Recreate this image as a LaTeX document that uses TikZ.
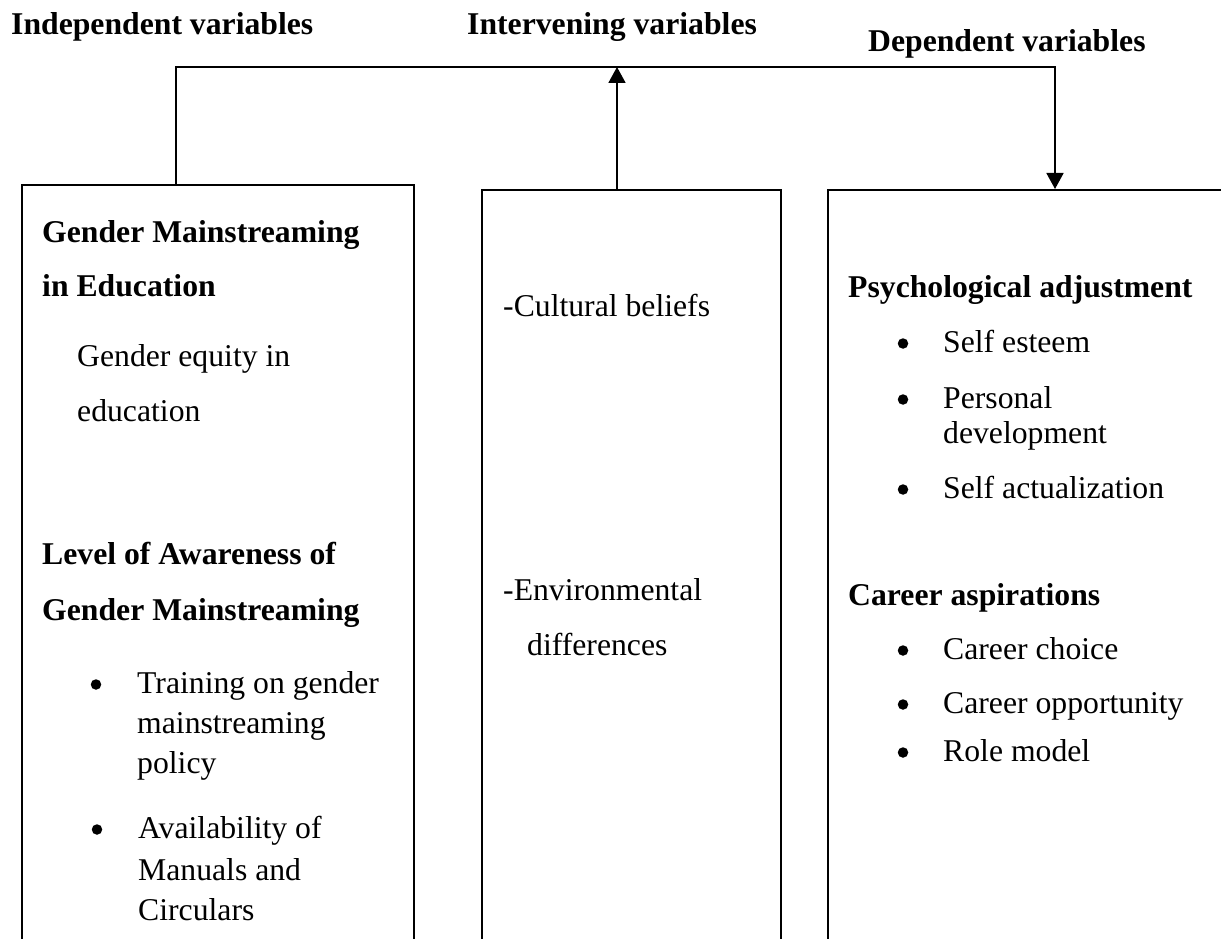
\documentclass[tikz,border=0pt]{standalone}
\usepackage{fontspec}
\setmainfont{Liberation Serif}
\usetikzlibrary{arrows.meta}
\begin{document}
\begin{tikzpicture}[x=1pt,y=-1pt,
  frame/.style={draw, line width=1.8pt, rectangle, inner sep=0pt, anchor=north west},
  link/.style={line width=1.8pt},
  tip/.style={-{Triangle[width=17pt,length=16pt]}},
  txt/.style={anchor=base west, inner sep=0pt, font=\fontsize{31.7}{38}\selectfont},
  hd/.style={anchor=base west, inner sep=0pt, font=\fontsize{31.7}{38}\selectfont\bfseries},
  dot/.style={circle, fill, inner sep=0pt, minimum size=10.5pt, yshift=8.5pt}]
\useasboundingbox (0,0) rectangle (1221,939);
\clip (0,0) rectangle (1221,939);

% column headings
\node[hd] (hIndep) at (11,35) {Independent variables};
\node[hd] (hInterv) at (467,35) {Intervening variables};
\node[hd] (hDep) at (868,52) {Dependent variables};

% the three columns (they run past the lower edge)
\node[frame, minimum width=392pt, minimum height=800pt] (boxL) at (21,184) {};
\node[frame, minimum width=299pt, minimum height=800pt] (boxM) at (481,189) {};
\node[frame, minimum width=420pt, minimum height=800pt] (boxR) at (827,189) {};

% connectors
\coordinate (kneeL) at (176,67);
\coordinate (kneeR) at (1055,67);
\coordinate (midTop) at (617,67);
\draw[link, tip] (boxL.north -| kneeL) -- (kneeL) -- (kneeR) -- (boxR.north -| kneeR);
\draw[link, tip] (boxM.north -| midTop) -- (midTop);

% independent variables
\node[hd] (l1) at (42,242) {Gender Mainstreaming};
\node[hd] (l2) at (42,296) {in Education};
\node[txt] (l3) at (77,366) {Gender equity in};
\node[txt] (l4) at (77,421) {education};
\node[hd] (l5) at (42,564) {Level of Awareness of};
\node[hd] (l6) at (42,620) {Gender Mainstreaming};
\node[dot] (lb1) at (96,693) {};
\node[txt] (l7) at (137,693) {Training on gender};
\node[txt] (l8) at (137,733) {mainstreaming};
\node[txt] (l9) at (137,773) {policy};
\node[dot] (lb2) at (97,838) {};
\node[txt] (l10) at (138,838) {Availability of};
\node[txt] (l11) at (138,880) {Manuals and};
\node[txt] (l12) at (138,920) {Circulars};

% intervening variables
\node[txt] (m1) at (503,316) {-Cultural beliefs};
\node[txt] (m2) at (503,600) {-Environmental};
\node[txt] (m3) at (527,655) {differences};

% dependent variables
\node[hd] (r1) at (848,297) {Psychological adjustment};
\node[dot] (rb1) at (903,352) {};
\node[txt] (r2) at (943,352) {Self esteem};
\node[dot] (rb2) at (903,408) {};
\node[txt] (r3) at (943,408) {Personal};
\node[txt] (r4) at (943,443) {development};
\node[dot] (rb3) at (903,498) {};
\node[txt] (r5) at (943,498) {Self actualization};
\node[hd] (r6) at (848,605) {Career aspirations};
\node[dot] (rb4) at (903,659) {};
\node[txt] (r7) at (943,659) {Career choice};
\node[dot] (rb5) at (903,713) {};
\node[txt] (r8) at (943,713) {Career opportunity};
\node[dot] (rb6) at (903,761) {};
\node[txt] (r9) at (943,761) {Role model};
\end{tikzpicture}
\end{document}
